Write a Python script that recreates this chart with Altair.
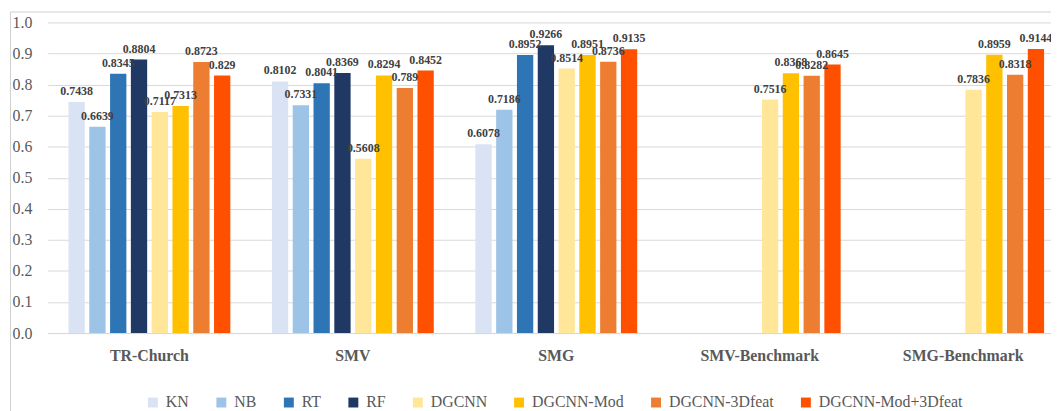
import altair as alt
import pandas as pd

datasets = ["TR-Church", "SMV", "SMG", "SMV-Benchmark", "SMG-Benchmark"]
methods = ["KN", "NB", "RT", "RF", "DGCNN", "DGCNN-Mod", "DGCNN-3Dfeat", "DGCNN-Mod+3Dfeat"]
colors = ["#DAE3F3", "#9DC3E6", "#2E75B6", "#1F3864", "#FFE699", "#FFC000", "#ED7D31", "#FF5000"]

tr_church = [0.7438, 0.6639, 0.8345, 0.8804, 0.7117, 0.7313, 0.8723, 0.829]
smv = [0.8102, 0.7331, 0.8041, 0.8369, 0.5608, 0.8294, 0.789, 0.8452]
smg = [0.6078, 0.7186, 0.8952, 0.9266, 0.8514, 0.8951, 0.8736, 0.9135]
smv_bench = [None, None, None, None, 0.7516, 0.8368, 0.8282, 0.8645]
smg_bench = [None, None, None, None, 0.7836, 0.8959, 0.8318, 0.9144]
y_ticks = [0.0, 0.1, 0.2, 0.3, 0.4, 0.5, 0.6, 0.7, 0.8, 0.9, 1.0]

rows = []
for ds, vals in zip(datasets, [tr_church, smv, smg, smv_bench, smg_bench]):
    for m, v in zip(methods, vals):
        if v is not None:
            rows.append({"dataset": ds, "method": m, "value": v, "label": str(v)})
df = pd.DataFrame(rows)

SERIF = "Liberation Serif, Times New Roman, Times, serif"
GRAY = "#595959"

x_enc = alt.X("dataset:N", sort=datasets,
              scale=alt.Scale(domain=datasets, range=[0, 1025], paddingInner=0, paddingOuter=0),
              axis=alt.Axis(title=None, labelAngle=0, ticks=False, labelPadding=15,
                            labelFont=SERIF, labelFontSize=16, labelFontWeight="bold",
                            labelColor=GRAY, domainColor="#D9D9D9", domainWidth=1))
xo_enc = alt.XOffset("method:N", sort=methods,
                     scale=alt.Scale(domain=methods, paddingInner=0.216, paddingOuter=1.0))
y_enc = alt.Y("value:Q",
              scale=alt.Scale(domain=[0, 1]),
              axis=alt.Axis(title=None, values=y_ticks, format=".1f", ticks=False, domain=False,
                            labelPadding=16, labelFont=SERIF, labelFontSize=16, labelColor=GRAY,
                            labelFontWeight="normal", gridColor="#D9D9D9", gridWidth=1))

base = alt.Chart(df)

bars = base.mark_bar().encode(
    x=x_enc,
    xOffset=xo_enc,
    y=y_enc,
    color=alt.Color("method:N", sort=methods,
                    scale=alt.Scale(domain=methods, range=colors),
                    legend=alt.Legend(title=None, orient="none", legendX=98, legendY=375,
                                      direction="horizontal", columns=8, columnPadding=24,
                                      symbolType="square", symbolSize=100, symbolStrokeWidth=0,
                                      labelFont=SERIF, labelFontSize=16, labelColor=GRAY,
                                      labelFontWeight="normal", labelOffset=5, padding=0)),
)

labels = base.mark_text(font=SERIF, fontSize=12, fontWeight="bold", color="#404040",
                        baseline="bottom", dy=-4).encode(
    x=x_enc,
    xOffset=xo_enc,
    y=y_enc,
    text="label:N",
)

frame_df = pd.DataFrame({"k": [0]})
left_border = alt.Chart(frame_df).mark_rule(color="#D0D0D0", strokeWidth=1).encode(
    x=alt.value(-37.5), y=alt.value(-10.5), y2=alt.value(420))
top_border = alt.Chart(frame_df).mark_rule(color="#D0D0D0", strokeWidth=1).encode(
    x=alt.value(-37.5), x2=alt.value(1030), y=alt.value(-10.5))

chart = alt.layer(bars, labels, left_border, top_border).properties(
    width=1011, height=313,
    padding={"left": 40, "top": 13, "right": 0, "bottom": 79},
    autosize=alt.AutoSizeParams(type="none"),
    background="white",
).configure(font=SERIF).configure_view(stroke=None)

chart.save("out.html", embed_options={"renderer": "svg", "actions": False})
